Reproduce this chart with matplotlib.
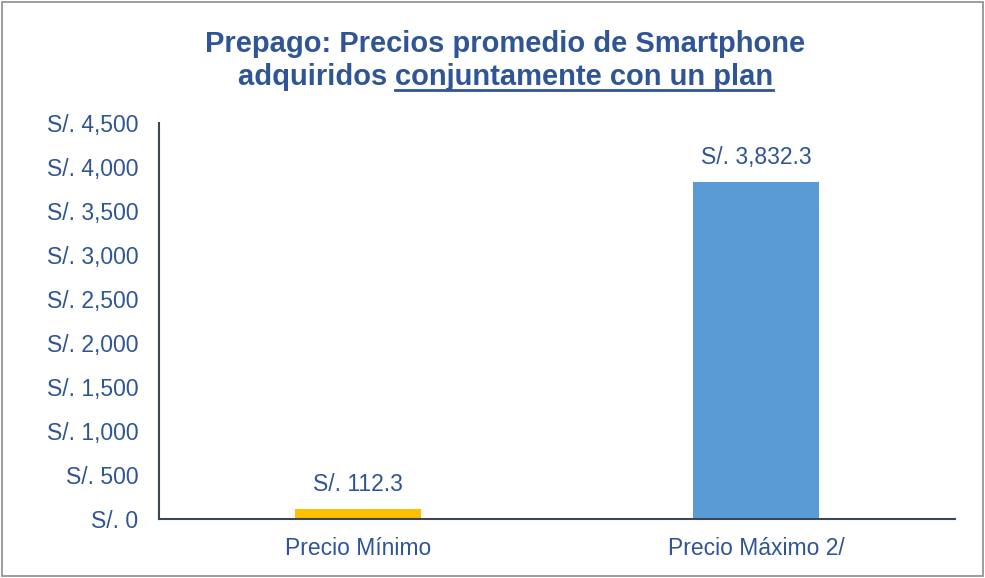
import numpy as np
import matplotlib.pyplot as plt
from matplotlib.patches import Rectangle
from matplotlib.ticker import FuncFormatter

# Datos
categorias = ["Precio Mínimo", "Precio Máximo 2/"]
precios = [112.3, 3832.3]
colores = ["#FFC000", "#5B9BD5"]
etiquetas = ["S/. 112.3", "S/. 3,832.3"]

azul_texto = "#2F5597"
plt.rcParams['font.family'] = ['Liberation Sans', 'DejaVu Sans']

fig = plt.figure(figsize=(9.85, 5.78), dpi=100)
ax = fig.add_axes([0.1614, 0.1021, 0.8081, 0.6851])

x = np.arange(len(categorias))
bars = ax.bar(x, precios, width=0.316, color=colores)
for b, t in zip(bars, etiquetas):
    ax.text(b.get_x() + b.get_width() / 2, b.get_height() + 150, t,
            ha="center", va="bottom", fontsize=16.5, color=azul_texto)

ax.set_xlim(-0.5, 1.5)
ax.set_ylim(0, 4500)
ax.set_yticks(np.arange(0, 4501, 500))
ax.yaxis.set_major_formatter(FuncFormatter(lambda v, p: "S/. {:,.0f}".format(v)))
ax.set_xticks(x)
ax.set_xticklabels(categorias)
ax.tick_params(axis="both", length=0, labelsize=16.5, labelcolor=azul_texto)
ax.tick_params(axis="y", pad=15)
ax.tick_params(axis="x", pad=13)
for s in ["top", "right"]:
    ax.spines[s].set_visible(False)
for s in ["left", "bottom"]:
    ax.spines[s].set_color("#3B4656")
    ax.spines[s].set_linewidth(1.5)

# Titulo en dos lineas, con parte subrayada
xc = 0.513
fig.text(xc, 0.924, "Prepago: Precios promedio de Smartphone", ha="center", va="center",
         fontsize=21, fontweight="bold", color=azul_texto)
t1 = fig.text(0, 0.867, "adquiridos ", ha="left", va="center",
              fontsize=21, fontweight="bold", color=azul_texto)
t2 = fig.text(0, 0.867, "conjuntamente con un plan", ha="left", va="center",
              fontsize=21, fontweight="bold", color=azul_texto)
fig.canvas.draw()
r = fig.canvas.get_renderer()
w1 = t1.get_window_extent(r).width
w2 = t2.get_window_extent(r).width
W = fig.bbox.width
x0 = xc * W - (w1 + w2) / 2
t1.set_x(x0 / W)
t2.set_x((x0 + w1) / W)
bb = t2.get_window_extent(r)
yu = (bb.y0 + 1) / fig.bbox.height
fig.add_artist(plt.Line2D([(x0 + w1) / W, (x0 + w1 + w2) / W], [yu, yu],
                          transform=fig.transFigure, color=azul_texto, lw=2))

# Borde
fig.add_artist(Rectangle((0.002, 0.003), 0.996, 0.994, transform=fig.transFigure,
                         fill=False, edgecolor="#8C8C8C", lw=1.2))

fig.savefig("out.png", dpi=100)
